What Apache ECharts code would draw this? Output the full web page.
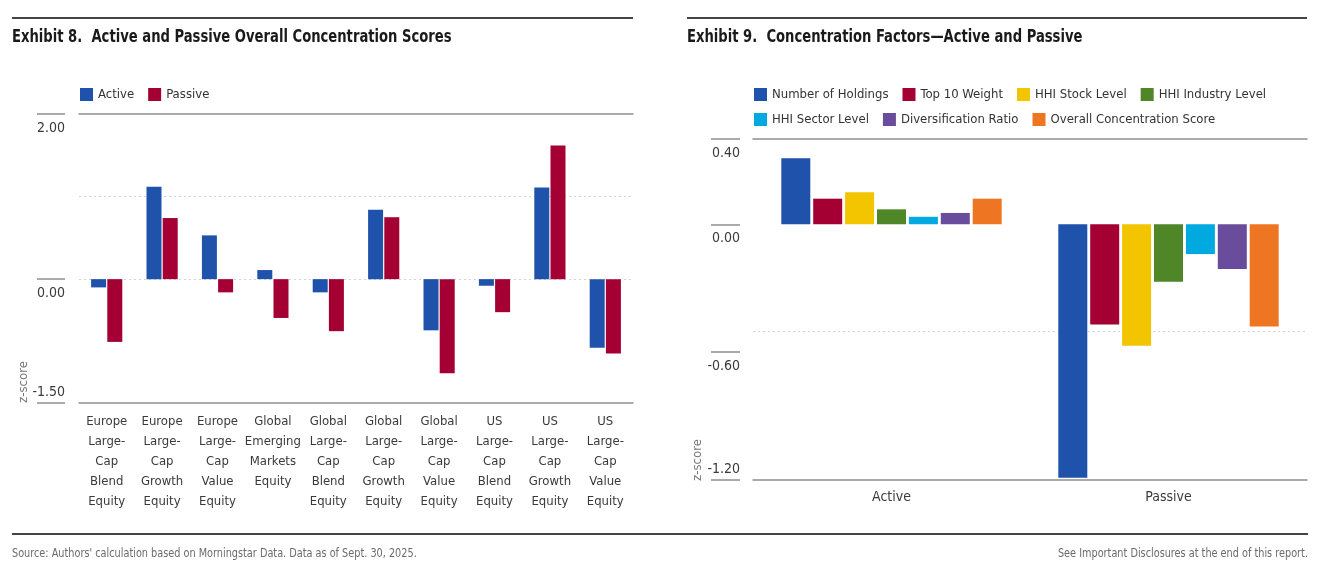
<!DOCTYPE html>
<html>
<head>
<meta charset="utf-8">
<script src="https://cdn.jsdelivr.net/npm/echarts@6/dist/echarts.min.js"></script>
<style>
html,body{margin:0;padding:0;background:#fff;}
#c{width:1340px;height:588px;}
</style>
</head>
<body>
<div id="c"></div>
<script>
// ---------- data ----------
const leftCategories = [
  'Europe\nLarge-\nCap\nBlend\nEquity',
  'Europe\nLarge-\nCap\nGrowth\nEquity',
  'Europe\nLarge-\nCap\nValue\nEquity',
  'Global\nEmerging\nMarkets\nEquity',
  'Global\nLarge-\nCap\nBlend\nEquity',
  'Global\nLarge-\nCap\nGrowth\nEquity',
  'Global\nLarge-\nCap\nValue\nEquity',
  'US\nLarge-\nCap\nBlend\nEquity',
  'US\nLarge-\nCap\nGrowth\nEquity',
  'US\nLarge-\nCap\nValue\nEquity'
];
const leftSeriesNames = ['Active', 'Passive'];
const activeScores  = [-0.10, 1.12, 0.53, 0.11, -0.16, 0.84, -0.62, -0.08, 1.11, -0.83];
const passiveScores = [-0.76, 0.74, -0.16, -0.47, -0.63, 0.75, -1.14, -0.40, 1.62, -0.90];
const leftTicks = [2, 0, -1.5];
const leftTopLabels = [2, 0];
const leftBottomLabels = [-1.5];
const leftGridValues = [1, 0];

const rightCategories = ['Active', 'Passive'];
const factorNames = ['Number of Holdings', 'Top 10 Weight', 'HHI Stock Level', 'HHI Industry Level',
                     'HHI Sector Level', 'Diversification Ratio', 'Overall Concentration Score'];
const numberOfHoldings   = [0.31, -1.19];
const top10Weight        = [0.12, -0.47];
const hhiStockLevel      = [0.15, -0.57];
const hhiIndustryLevel   = [0.07, -0.27];
const hhiSectorLevel     = [0.035, -0.14];
const diversificationRatio = [0.053, -0.21];
const overallConcentration = [0.12, -0.48];
const factorValues = [numberOfHoldings, top10Weight, hhiStockLevel, hhiIndustryLevel,
                      hhiSectorLevel, diversificationRatio, overallConcentration];
const rightTicks = [0.4, 0, -0.6, -1.2];
const rightTopLabels = [0.4, 0, -0.6];
const rightBottomLabels = [-1.2];
const rightGridValues = [-0.5];

// ---------- styles ----------
const FONT = "'DejaVu Sans Condensed','Liberation Sans Narrow','Liberation Sans',sans-serif";
const leftColors = ['#1F52AA', '#A50034'];
const factorColors = ['#1F52AA', '#A50034', '#F2C500', '#4E8628', '#00A9E0', '#6A4C9C', '#EE7623'];
const axisGray = '#8e8e8e';
const labelColor = '#3a3a3a';

const chart = echarts.init(document.getElementById('c'), null, {renderer: 'canvas'});

function yAxisPair(grid, min, max, ticks, topLabels, bottomLabels, offset, tickLen) {
  const fmt = v => Number(v).toFixed(2);
  return [
    {
      type: 'value', gridIndex: grid, position: 'left', min: min, max: max, offset: offset,
      axisLine: {show: false},
      axisTick: {show: true, length: tickLen, customValues: ticks, lineStyle: {color: axisGray, width: 1.5}},
      axisLabel: {show: true, customValues: topLabels, formatter: fmt, margin: 0, verticalAlign: 'top',
                  padding: [7, 0, 0, 0], color: labelColor, fontFamily: FONT, fontSize: 14},
      splitLine: {show: false}
    },
    {
      type: 'value', gridIndex: grid, position: 'left', min: min, max: max, offset: offset,
      axisLine: {show: false},
      axisTick: {show: false},
      axisLabel: {show: true, customValues: bottomLabels, formatter: fmt, margin: 0, verticalAlign: 'bottom',
                  padding: [0, 0, 4, 0], color: labelColor, fontFamily: FONT, fontSize: 14},
      splitLine: {show: false}
    }
  ];
}

function gridLinesMark(values) {
  return {
    silent: true, symbol: 'none', label: {show: false},
    lineStyle: {type: [2, 3], color: '#d4d4d4', width: 1},
    data: values.map(v => ({yAxis: v})),
    z: 0
  };
}

const series = [];
leftSeriesNames.forEach((name, i) => {
  series.push({
    name: name, type: 'bar', xAxisIndex: 0, yAxisIndex: 0,
    data: i === 0 ? activeScores : passiveScores,
    barWidth: 15, barGap: '8%',
    itemStyle: {color: leftColors[i]},
    markLine: i === 0 ? gridLinesMark(leftGridValues) : undefined,
    z: 3
  });
});
factorNames.forEach((name, i) => {
  series.push({
    name: name, type: 'bar', xAxisIndex: 2, yAxisIndex: 2,
    data: factorValues[i],
    barWidth: 29, barGap: '10%',
    itemStyle: {color: factorColors[i]},
    markLine: i === 0 ? gridLinesMark(rightGridValues) : undefined,
    z: 3
  });
});

const legendBase = {
  icon: 'rect', itemWidth: 13, itemHeight: 13, itemGap: 14, padding: 0,
  textStyle: {fontFamily: FONT, fontSize: 13, color: '#333'},
  selectedMode: false
};

const option = {
  animation: false,
  backgroundColor: '#ffffff',
  grid: [
    {left: 79, width: 554, top: 114, height: 289},
    {left: 753, width: 554, top: 139, height: 341}
  ],
  legend: [
    Object.assign({}, legendBase, {data: leftSeriesNames, left: 80, top: 88}),
    Object.assign({}, legendBase, {data: factorNames.slice(0, 4), left: 754, top: 88}),
    Object.assign({}, legendBase, {data: factorNames.slice(4), left: 754, top: 113})
  ],
  xAxis: [
    {type: 'category', gridIndex: 0, data: leftCategories, position: 'bottom',
     axisLine: {show: true, onZero: false, lineStyle: {color: axisGray, width: 1.5}},
     axisTick: {show: false},
     axisLabel: {interval: 0, margin: 9, color: labelColor, fontFamily: FONT, fontSize: 13, lineHeight: 20}},
    {type: 'category', gridIndex: 0, data: leftCategories, position: 'top',
     axisLine: {show: true, onZero: false, lineStyle: {color: axisGray, width: 1.5}},
     axisTick: {show: false}, axisLabel: {show: false}},
    {type: 'category', gridIndex: 1, data: rightCategories, position: 'bottom',
     axisLine: {show: true, onZero: false, lineStyle: {color: axisGray, width: 1.5}},
     axisTick: {show: false},
     axisLabel: {interval: 0, margin: 7, color: labelColor, fontFamily: FONT, fontSize: 14, lineHeight: 20}},
    {type: 'category', gridIndex: 1, data: rightCategories, position: 'top',
     axisLine: {show: true, onZero: false, lineStyle: {color: axisGray, width: 1.5}},
     axisTick: {show: false}, axisLabel: {show: false}}
  ],
  yAxis: [].concat(
    yAxisPair(0, -1.5, 2, leftTicks, leftTopLabels, leftBottomLabels, 14, 28),
    yAxisPair(1, -1.2, 0.4, rightTicks, rightTopLabels, rightBottomLabels, 13, 29)
  ),
  series: series,
  graphic: [
    {type: 'line', shape: {x1: 12, y1: 18, x2: 633, y2: 18}, style: {stroke: '#454545', lineWidth: 2}, silent: true},
    {type: 'line', shape: {x1: 687, y1: 18, x2: 1307, y2: 18}, style: {stroke: '#454545', lineWidth: 2}, silent: true},
    {type: 'line', shape: {x1: 12, y1: 534, x2: 1308, y2: 534}, style: {stroke: '#454545', lineWidth: 2}, silent: true},
    {type: 'text', x: 12, y: 38, scaleX: 0.86, style: {text: 'Exhibit 8.  Active and Passive Overall Concentration Scores',
      fontFamily: FONT, fontSize: 17, fontWeight: 'bold', fill: '#1a1a1a', verticalAlign: 'middle'}},
    {type: 'text', x: 687, y: 38, scaleX: 0.86, style: {text: 'Exhibit 9.  Concentration Factors\u2014Active and Passive',
      fontFamily: FONT, fontSize: 17, fontWeight: 'bold', fill: '#1a1a1a', verticalAlign: 'middle'}},
    {type: 'text', x: 24, y: 382, rotation: Math.PI / 2,
      style: {text: 'z-score', fontFamily: FONT, fontSize: 13, fill: '#777', align: 'center', verticalAlign: 'middle'}},
    {type: 'text', x: 698, y: 460, rotation: Math.PI / 2,
      style: {text: 'z-score', fontFamily: FONT, fontSize: 13, fill: '#777', align: 'center', verticalAlign: 'middle'}},
    {type: 'text', x: 12, y: 554, scaleX: 0.9, style: {text: "Source: Authors' calculation based on Morningstar Data. Data as of Sept. 30, 2025.",
      fontFamily: FONT, fontSize: 12, fill: '#6b6b6b', verticalAlign: 'middle'}},
    {type: 'text', x: 1308, y: 554, scaleX: 0.9, style: {text: 'See Important Disclosures at the end of this report.',
      fontFamily: FONT, fontSize: 12, fill: '#6b6b6b', align: 'right', verticalAlign: 'middle'}}
  ]
};
chart.setOption(option);
</script>
</body>
</html>
